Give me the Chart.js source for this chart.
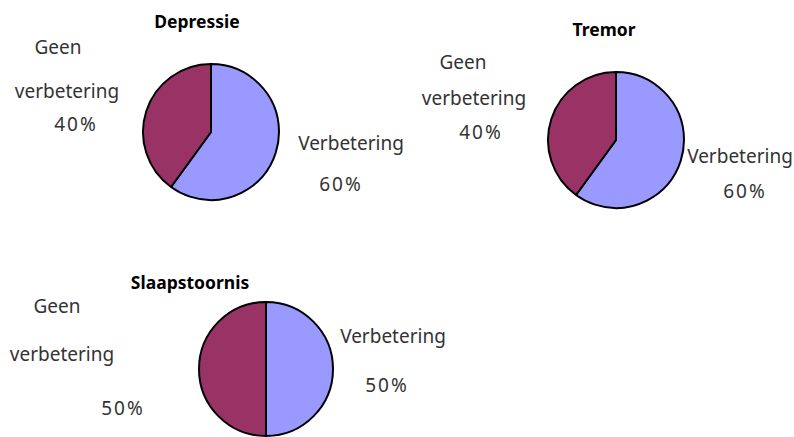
<!DOCTYPE html>
<html>
<head>
<meta charset="utf-8">
<script src="https://cdn.jsdelivr.net/npm/chart.js@4/dist/chart.umd.min.js"></script>
<style>
  html, body { margin: 0; padding: 0; background: #fff; }
  #stage { position: relative; width: 794px; height: 437px; overflow: hidden; font-family: "Noto Sans", "DejaVu Sans", sans-serif; }
  .pie { position: absolute; }
  .txt { position: absolute; transform: translate(-50%, -50%); white-space: nowrap; color: #333; font-size: 19px; line-height: 1; }
  .txt.pct { letter-spacing: 2px; }
  .ttl { position: absolute; transform: translate(-50%, -50%); white-space: nowrap; color: #000; font-size: 17.5px; font-weight: bold; line-height: 1; }
</style>
</head>
<body>
<div id="stage"></div>
<script>
// Slice names and the share of patients per complaint
const sliceLabels = ['Verbetering', 'Geen verbetering'];
const chartTitles = ['Depressie', 'Tremor', 'Slaapstoornis'];
const depressieValues = [60, 40];
const tremorValues = [60, 40];
const slaapstoornisValues = [50, 50];
const sliceColors = ['#9999FF', '#993366'];

// Where each pie sits on the page, with its title and slice captions
const panels = [
  { values: depressieValues, cx: 211, cy: 132, r: 69,
    title: [197, 22],
    improved: { name: [351, 143], pct: [341, 184] },
    notImproved: { geen: [58, 47], rest: [67, 91], pct: [76, 124] } },
  { values: tremorValues, cx: 616, cy: 140, r: 69,
    title: [604, 30],
    improved: { name: [740, 156], pct: [745, 191] },
    notImproved: { geen: [463, 62], rest: [474, 98], pct: [481, 132] } },
  { values: slaapstoornisValues, cx: 266, cy: 369, r: 68,
    title: [190, 283],
    improved: { name: [393, 336], pct: [387, 385] },
    notImproved: { geen: [57, 306], rest: [62, 354], pct: [123, 408] } }
];

const stage = document.getElementById('stage');

function addText(cls, text, pos) {
  const d = document.createElement('div');
  d.className = cls;
  d.textContent = text;
  d.style.left = pos[0] + 'px';
  d.style.top = pos[1] + 'px';
  stage.appendChild(d);
}

panels.forEach((p, i) => {
  const pad = 2;
  const size = 2 * p.r + 2 * pad;
  const canvas = document.createElement('canvas');
  canvas.className = 'pie';
  canvas.width = size;
  canvas.height = size;
  canvas.style.width = size + 'px';
  canvas.style.height = size + 'px';
  canvas.style.left = (p.cx - size / 2) + 'px';
  canvas.style.top = (p.cy - size / 2) + 'px';
  stage.appendChild(canvas);

  new Chart(canvas, {
    type: 'pie',
    data: {
      labels: sliceLabels,
      datasets: [{
        data: p.values,
        backgroundColor: sliceColors,
        borderColor: '#000',
        borderWidth: 2,
        hoverOffset: 0
      }]
    },
    options: {
      responsive: false,
      animation: false,
      layout: { padding: pad },
      plugins: { legend: { display: false }, tooltip: { enabled: false }, title: { display: false } },
      events: []
    }
  });

  const total = p.values.reduce((a, b) => a + b, 0);
  const pct = v => Math.round(v / total * 100) + '%';
  const geenWords = sliceLabels[1].split(' ');

  addText('ttl', chartTitles[i], p.title);
  addText('txt', sliceLabels[0], p.improved.name);
  addText('txt pct', pct(p.values[0]), p.improved.pct);
  addText('txt', geenWords[0], p.notImproved.geen);
  addText('txt', geenWords[1], p.notImproved.rest);
  addText('txt pct', pct(p.values[1]), p.notImproved.pct);
});
</script>
</body>
</html>
